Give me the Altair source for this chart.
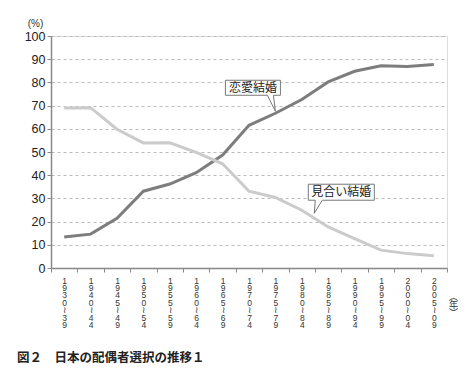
import altair as alt
import pandas as pd

periods = ["1930〜39", "1940〜44", "1945〜49", "1950〜54", "1955〜59",
           "1960〜64", "1965〜69", "1970〜74", "1975〜79", "1980〜84",
           "1985〜89", "1990〜94", "1995〜99", "2000〜04", "2005〜09"]
love = [13.4, 14.6, 21.4, 33.1, 36.2, 41.1, 48.7, 61.5, 66.7, 72.6,
        80.2, 84.8, 87.2, 86.9, 87.7]
arranged = [69.0, 69.1, 59.8, 53.9, 54.0, 49.8, 44.9, 33.1, 30.4, 24.9,
            17.7, 12.7, 7.7, 6.2, 5.3]
series_names = ["恋愛結婚", "見合い結婚"]
series_colors = ["#7d7d7d", "#cbcbcb"]
y_ticks = [0, 10, 20, 30, 40, 50, 60, 70, 80, 90, 100]

rows = []
for p, a, b in zip(periods, love, arranged):
    rows.append({"period": p, "series": series_names[0], "value": a})
    rows.append({"period": p, "series": series_names[1], "value": b})
df = pd.DataFrame(rows)

# callout annotations anchored on data points
anno = pd.DataFrame([
    {"period": "1975〜79", "value": 66.7, "label": "恋愛結婚", "dx": -22.5, "dy": -25.5,
     "path": "M -5 -3.3 L 0.5 -3.3 L 0.5 -1.8 L -0.2 -1.8 L 0 -0.2 L -0.8 -1.8 L -5 -1.8 Z"},
    {"period": "1980〜84", "value": 24.9, "label": "見合い結婚", "dx": 39.5, "dy": -18,
     "path": "M 0.65 -2.6 L 7.25 -2.6 L 7.25 -1.0 L 2.05 -1.0 L 1.25 0.3 L 1.35 -1.0 L 0.65 -1.0 Z"},
])

x_enc = alt.X(
    "period:N", sort=periods, bandPosition=0.5,
    scale=alt.Scale(type="band", paddingInner=0, paddingOuter=0),
    axis=alt.Axis(
        labelExpr="split(replace(datum.label, '〜', '≀'), '')",
        labelAngle=0, labelBaseline="top", labelAlign="center",
        labelFontSize=8.5, labelLineHeight=7.4, labelPadding=4,
        labelOverlap=False, labelColor="#333", labelFont="Liberation Sans",
        tickBand="extent", tickSize=4, tickColor="#888", domainColor="#888",
        domainWidth=1.5, grid=False,
        title=["︵", "年", "︶"], titleAngle=0, titleX=402, titleY=24,
        titleFontSize=9, titleLineHeight=8, titleFontWeight="normal",
        titleColor="#333", titleBaseline="top", titleFont="Noto Sans CJK JP",
    ),
)
y_enc = alt.Y(
    "value:Q",
    scale=alt.Scale(domain=[0, 100], nice=False),
    axis=alt.Axis(
        values=y_ticks, tickCount=11, tickSize=4, tickColor="#888", labelFontSize=12.5,
        labelPadding=2, labelColor="#222", labelFont="Liberation Sans",
        labelOverlap=False,
        gridDash=[3, 3], gridColor="#bbbbbb", domainColor="#888", domainWidth=1.5,
        title="(%)", titleAngle=0, titleX=-16, titleY=-8, titleFontSize=10,
        titleFontWeight="normal", titleAlign="center", titleColor="#333",
        titleFont="Liberation Sans",
    ),
)

lines = alt.Chart(df).mark_line(strokeWidth=3).encode(
    x=x_enc, y=y_enc,
    color=alt.Color("series:N", scale=alt.Scale(domain=series_names, range=series_colors), legend=None),
)

boxes = alt.Chart(anno).mark_point(
    filled=True, fill="white", stroke="#777", strokeWidth=1, size=400, opacity=1
).encode(
    x=x_enc, y=y_enc,
    shape=alt.Shape("path:N", scale=None),
)

texts = [
    alt.Chart(anno.iloc[[i]]).mark_text(
        dx=float(anno.dx[i]), dy=float(anno.dy[i]), fontSize=12, color="#222",
        font="Noto Sans CJK JP", baseline="middle", align="center"
    ).encode(
        x=x_enc, y=y_enc,
        text="label:N",
    )
    for i in range(len(anno))
]

chart = alt.layer(lines, boxes, *texts).properties(
    width=396, height=232,
    autosize=alt.AutoSizeParams(type="none"),
    padding={"left": 43, "top": 28, "right": 20, "bottom": 111},
    title=alt.Title(
        "図２　日本の配偶者選択の推移１", orient="bottom", anchor="start", frame="group",
        dx=-34, offset=23, fontSize=12.5, fontWeight="bold",
        font="Noto Sans CJK JP", color="#222",
    ),
).configure_view(stroke="#888", strokeWidth=1.5).configure(background="white")

chart.save("out.html", embed_options={"renderer": "svg", "actions": False})
